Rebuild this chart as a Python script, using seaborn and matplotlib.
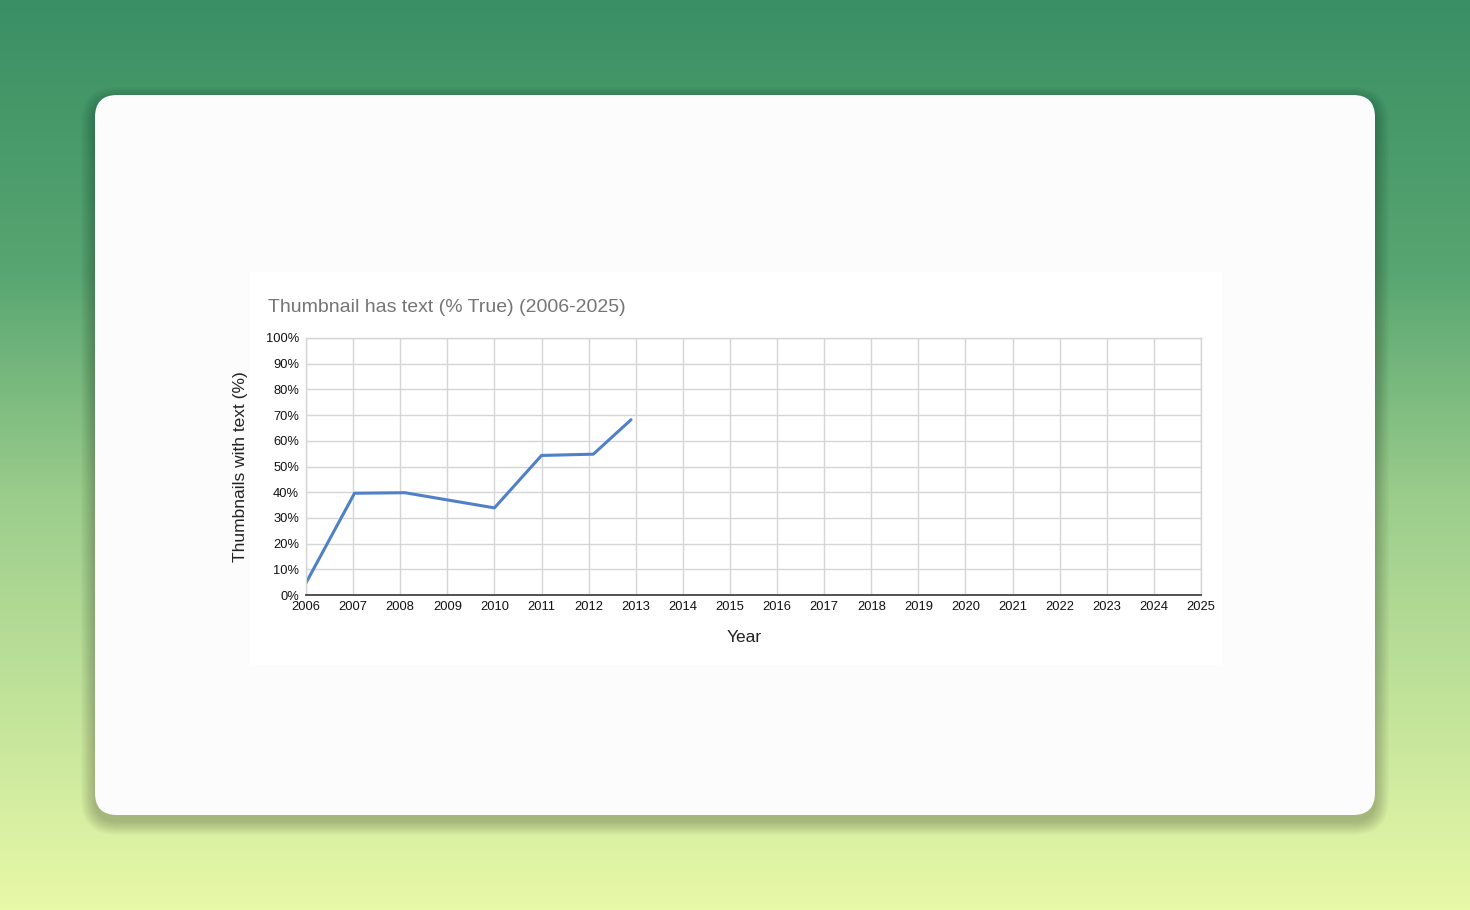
import numpy as np
import pandas as pd
import matplotlib
matplotlib.use("Agg")
import matplotlib.pyplot as plt
from matplotlib.patches import FancyBboxPatch, Rectangle
from matplotlib.colors import LinearSegmentedColormap
from matplotlib.ticker import FuncFormatter
import seaborn as sns

# dados
years = [2006.0, 2007.03, 2008.1, 2009.0, 2010.0, 2011.0, 2012.1, 2012.9]
pct_text = [4.7, 39.6, 39.8, 37.0, 33.9, 54.3, 54.8, 68.2]
year_ticks = list(range(2006, 2026))
pct_ticks = list(range(0, 101, 10))

title = "Thumbnail has text (% True) (2006-2025)"
xlabel = "Year"
ylabel = "Thumbnails with text (%)"

df = pd.DataFrame({"Year": years, "Pct": pct_text})

sns.set_theme(style="whitegrid")
plt.rcParams["font.family"] = ["Liberation Sans", "DejaVu Sans"]

W, H = 1470, 910
fig = plt.figure(figsize=(W / 100, H / 100), dpi=100)

# fundo em degradê
bg = fig.add_axes([0, 0, 1, 1])
cmap = LinearSegmentedColormap.from_list(
    "bg", [(0.0, "#3a8f64"), (0.3, "#58a671"), (0.55, "#9ccd8c"), (1.0, "#e8f9a8")])
grad = np.linspace(0, 1, 256).reshape(-1, 1)
bg.imshow(grad, aspect="auto", cmap=cmap, extent=[0, W, H, 0])
bg.set_xlim(0, W)
bg.set_ylim(H, 0)
bg.axis("off")

# sombra difusa + cartão
for i in range(12):
    grow = 14 - i * 1.2
    bg.add_patch(FancyBboxPatch((95 - grow, 95 - grow + 6), 1280 + 2 * grow, 720 + 2 * grow,
                                boxstyle=f"round,pad=0,rounding_size={22 + grow}",
                                fc="black", ec="none", alpha=0.018, zorder=1))
bg.add_patch(FancyBboxPatch((95, 95), 1280, 720, boxstyle="round,pad=0,rounding_size=22",
                            fc="#fcfcfc", ec="none", zorder=2))
bg.add_patch(Rectangle((250, 272), 972, 393, fc="#ffffff", ec="none", zorder=3))

left, right, top, bottom = 306, 1201, 338, 595
ax = fig.add_axes([left / W, 1 - bottom / H, (right - left) / W, (bottom - top) / H])
ax.set_facecolor("white")

sns.lineplot(data=df, x="Year", y="Pct", ax=ax, color="#5080c8", linewidth=2.2)

ax.set_xlim(2006, 2025)
ax.set_ylim(0, 100)
ax.set_xticks(year_ticks)
ax.set_yticks(pct_ticks)
ax.yaxis.set_major_formatter(FuncFormatter(lambda v, p: f"{v:.0f}%"))
ax.tick_params(axis="both", length=0, labelsize=9.3, colors="#111111")
ax.tick_params(axis="x", pad=4)
ax.tick_params(axis="y", pad=5)
ax.grid(True, color="#d6d6d6", linewidth=1.0)
for side in ["left", "right", "top"]:
    ax.spines[side].set_color("#d6d6d6")
    ax.spines[side].set_linewidth(1.0)
ax.spines["bottom"].set_color("#444444")
ax.spines["bottom"].set_linewidth(1.3)

ax.set_xlabel(xlabel, fontsize=12.5, color="#222222")
ax.set_ylabel(ylabel, fontsize=12.5, color="#222222")
ax.xaxis.set_label_coords((744 - left) / (right - left), -(638 - bottom) / (bottom - top), transform=ax.transAxes)
ax.yaxis.set_label_coords(-(left - 241) / (right - left), (595 - 467) / (bottom - top), transform=ax.transAxes)
ax.xaxis.label.set_va("center")
ax.yaxis.label.set_va("center")

fig.text(268 / W, 1 - 307 / H, title, fontsize=14, color="#757575", ha="left", va="center")

fig.savefig("out.png", dpi=100)
